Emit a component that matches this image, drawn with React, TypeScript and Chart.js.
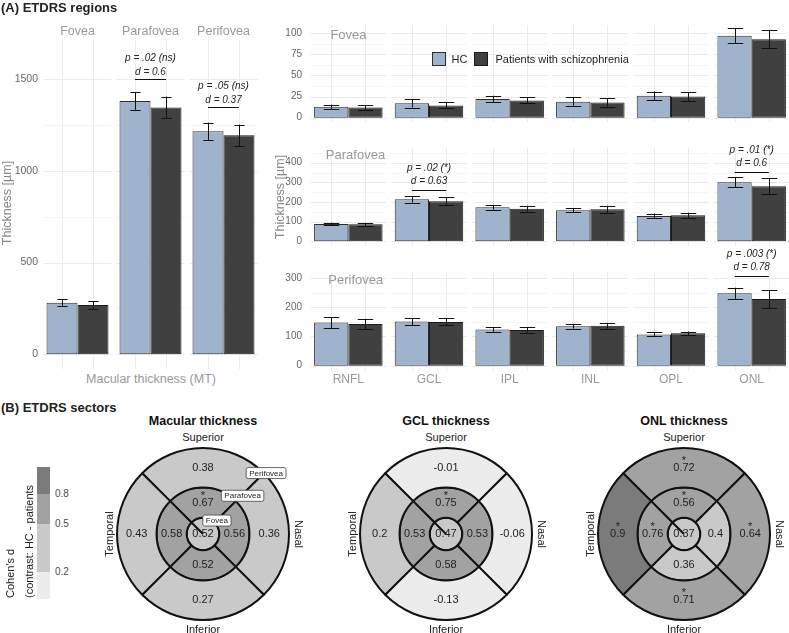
import React, { useEffect, useRef } from "react";
import { Chart, registerables } from "chart.js";
Chart.register(...registerables);

const FONT = "'Liberation Sans', Arial, Helvetica, sans-serif";

// ---------- Panel A (left): macular thickness ----------
const mtRegions = ["Fovea", "Parafovea", "Perifovea"];
const mtHC = [281, 1380, 1215];
const mtHCsd = [20, 48, 47];
const mtPat = [268, 1345, 1193];
const mtPatSd = [20, 59, 58];
const mtTicks = [0, 500, 1000, 1500];
const mtAnnIdx = [1, 2];
const mtAnnY = [1501, 1348];
const mtAnnP = ["p = .02 (ns)", "p = .05 (ns)"];
const mtAnnD = ["d = 0.6", "d = 0.37"];

// ---------- Panel A (right): retinal layers ----------
const layers = ["RNFL", "GCL", "IPL", "INL", "OPL", "ONL"];
const foveaHC = [13, 17, 22, 19, 26, 97];
const foveaHCsd = [2.5, 5, 4, 5, 5, 9];
const foveaPat = [12, 14.5, 20.5, 18, 25, 93];
const foveaPatSd = [2.5, 3.5, 3.5, 5, 5, 11];
const foveaTicks = [0, 25, 50, 75, 100];
const paraHC = [88, 214, 173, 158, 129, 300];
const paraHCsd = [7, 17, 12, 11, 12, 25];
const paraPat = [87, 204, 166, 163, 132, 280];
const paraPatSd = [7, 20, 15, 18, 14, 40];
const paraTicks = [0, 100, 200, 300, 400];
const periHC = [148, 151, 124, 135, 107, 248];
const periHCsd = [19, 12, 8.5, 8, 7, 19];
const periPat = [143, 150, 122, 137, 111, 228];
const periPatSd = [18, 12, 9, 10, 6, 30];
const periTicks = [0, 100, 200, 300];
const paraAnnIdx = [1, 5];
const paraAnnY = [263, 351];
const paraAnnP = ["p = .02 (*)", "p = .01 (*)"];
const paraAnnD = ["d = 0.63", "d = 0.6"];
const periAnnIdx = [5];
const periAnnY = [306];
const periAnnP = ["p = .003 (*)"];
const periAnnD = ["d = 0.78"];

// ---------- Panel B: ETDRS sectors (Cohen's d) ----------
const sectorNames = ["Superior", "Nasal", "Inferior", "Temporal"];
const sectorShare = [1, 1, 1, 1];
const mtOuter = [0.38, 0.36, 0.27, 0.43];
const mtInner = [0.67, 0.56, 0.52, 0.58];
const mtCenter = 0.52;
const mtOuterSig = [0, 0, 0, 0];
const mtInnerSig = [1, 0, 0, 0];
const gclOuter = [-0.01, -0.06, -0.13, 0.2];
const gclInner = [0.75, 0.53, 0.58, 0.53];
const gclCenter = 0.47;
const gclOuterSig = [0, 0, 0, 0];
const gclInnerSig = [1, 0, 0, 0];
const onlOuter = [0.72, 0.64, 0.71, 0.9];
const onlInner = [0.56, 0.4, 0.36, 0.76];
const onlCenter = 0.37;
const onlOuterSig = [1, 1, 1, 1];
const onlInnerSig = [1, 0, 0, 1];
const binBreaks = [0.2, 0.5, 0.8];
const binColors = ["#ececec", "#c9c9c9", "#a2a2a2", "#7b7b7b"];
const legendTicks = ["0.8", "0.5", "0.2"];

const HC_FILL = "#9fb4cc";
const HC_BORDER = "#2e2e2e";
const PAT_FILL = "#404040";
const PAT_BORDER = "#1a1a1a";
const CAT_PCT = 0.849;

type BarP = {
  labels: string[];
  hc: number[];
  hcSd: number[];
  pat: number[];
  patSd: number[];
  ticks: number[];
  min: number;
  max: number;
  yWidth: number;
  padTop: number;
  tickSize: number;
  tickPad: number;
  showX: boolean;
  xHeight: number;
  capRatio: number;
  annIdx: number[];
  annY: number[];
  annP: string[];
  annD: string[];
  annOff: [number, number];
};

const crisp = (v: number) => Math.round(v) + 0.5;

function barConfig(p: BarP): any {
  const step = p.ticks[1] - p.ticks[0];
  const plugin = {
    id: "facetGrid",
    beforeDatasetsDraw(chart: any) {
      const { ctx, chartArea: a } = chart;
      const y = chart.scales.y;
      const m0 = chart.getDatasetMeta(0).data;
      const m1 = chart.getDatasetMeta(1).data;
      const majors: number[] = y.ticks.map((t: any) => t.value);
      const minors: number[] = [];
      majors.forEach((v) => {
        [v - step / 2, v + step / 2].forEach((m) => {
          if (m > y.min && m < y.max && !minors.includes(m)) minors.push(m);
        });
      });
      ctx.save();
      ctx.lineWidth = 1;
      for (let i = 0; i < m0.length; i++) {
        const w = m0[i].width;
        const L = m0[i].x - 0.6 * w;
        const R = m1[i].x + 0.6 * w;
        ctx.strokeStyle = "#f5f5f5";
        minors.forEach((v) => {
          const py = crisp(y.getPixelForValue(v));
          ctx.beginPath();
          ctx.moveTo(L, py);
          ctx.lineTo(R, py);
          ctx.stroke();
        });
        ctx.strokeStyle = "#ebebeb";
        majors.forEach((v) => {
          const py = crisp(y.getPixelForValue(v));
          ctx.beginPath();
          ctx.moveTo(L, py);
          ctx.lineTo(R, py);
          ctx.stroke();
        });
        [m0[i].x, m1[i].x].forEach((cx: number) => {
          const px = crisp(cx);
          ctx.beginPath();
          ctx.moveTo(px, a.top);
          ctx.lineTo(px, a.bottom);
          ctx.stroke();
        });
      }
      ctx.restore();
    },
    afterDatasetsDraw(chart: any) {
      const { ctx } = chart;
      const y = chart.scales.y;
      const metas = [chart.getDatasetMeta(0).data, chart.getDatasetMeta(1).data];
      const means = [p.hc, p.pat];
      const sds = [p.hcSd, p.patSd];
      ctx.save();
      ctx.strokeStyle = "#111";
      ctx.lineWidth = 1;
      metas.forEach((els: any[], d: number) => {
        els.forEach((el: any, i: number) => {
          const top = y.getPixelForValue(means[d][i] + sds[d][i]);
          const bot = y.getPixelForValue(means[d][i] - sds[d][i]);
          const half = (el.width * p.capRatio) / 2;
          const cx = crisp(el.x);
          ctx.beginPath();
          ctx.moveTo(cx, top);
          ctx.lineTo(cx, bot);
          ctx.moveTo(cx - half, crisp(top));
          ctx.lineTo(cx + half, crisp(top));
          ctx.moveTo(cx - half, crisp(bot));
          ctx.lineTo(cx + half, crisp(bot));
          ctx.stroke();
        });
      });
      // significance annotations
      ctx.fillStyle = "#222";
      ctx.textAlign = "center";
      ctx.textBaseline = "middle";
      ctx.font = `italic 10px ${FONT}`;
      p.annIdx.forEach((idx, k) => {
        const x0 = metas[0][idx].x;
        const x1 = metas[1][idx].x;
        const ly = crisp(y.getPixelForValue(p.annY[k]));
        ctx.beginPath();
        ctx.moveTo(x0, ly);
        ctx.lineTo(x1, ly);
        ctx.stroke();
        const mx = (x0 + x1) / 2;
        ctx.fillText(p.annD[k], mx, ly + p.annOff[0]);
        ctx.fillText(p.annP[k], mx, ly + p.annOff[1]);
      });
      ctx.restore();
    },
  };
  return {
    type: "bar",
    data: {
      labels: p.labels,
      datasets: [
        {
          label: "HC",
          data: p.hc,
          backgroundColor: HC_FILL,
          borderColor: HC_BORDER,
          borderWidth: 1,
          borderSkipped: false,
        },
        {
          label: "Patients with schizophrenia",
          data: p.pat,
          backgroundColor: PAT_FILL,
          borderColor: PAT_BORDER,
          borderWidth: 1,
          borderSkipped: false,
        },
      ],
    },
    options: {
      animation: false,
      responsive: false,
      events: [],
      layout: { padding: { top: p.padTop, left: 0, right: 0, bottom: 0 } },
      datasets: { bar: { categoryPercentage: CAT_PCT, barPercentage: 1 } },
      plugins: { legend: { display: false }, tooltip: { enabled: false } },
      scales: {
        x: {
          type: "category",
          display: p.showX,
          offset: true,
          grid: { display: false, drawTicks: false },
          border: { display: false },
          ticks: { color: "#999", font: { family: FONT, size: 12 }, padding: 1, maxRotation: 0 },
          afterFit: (s: any) => {
            s.height = p.xHeight;
            s.paddingLeft = 0;
            s.paddingRight = 0;
          },
        },
        y: {
          min: p.min,
          max: p.max,
          grid: { display: false, drawTicks: false },
          border: { display: false },
          afterBuildTicks: (s: any) => {
            s.ticks = p.ticks.map((v) => ({ value: v }));
          },
          ticks: {
            color: "#666",
            font: { family: FONT, size: p.tickSize },
            padding: p.tickPad,
            callback: (v: any) => String(v),
          },
          afterFit: (s: any) => {
            s.width = p.yWidth;
            s.paddingTop = 0;
            s.paddingBottom = 0;
          },
        },
      },
    },
    plugins: [plugin],
  };
}

const binOf = (v: number) => {
  let b = 0;
  binBreaks.forEach((br) => {
    if (v >= br) b++;
  });
  return b;
};

function ringConfig(
  outer: number[],
  inner: number[],
  center: number,
  outerSig: number[],
  innerSig: number[],
  centerBin: number,
  regions: boolean
): any {
  const col = (v: number) => binColors[binOf(v)];
  const vals = [outer, inner, [center]];
  const sigs = [outerSig, innerSig, [0]];
  const plugin = {
    id: "ringLabels",
    afterDatasetsDraw(chart: any) {
      const { ctx } = chart;
      ctx.save();
      ctx.textAlign = "center";
      ctx.textBaseline = "middle";
      ctx.fillStyle = "#222";
      for (let di = 0; di < 3; di++) {
        const meta = chart.getDatasetMeta(di);
        meta.data.forEach((arc: any, j: number) => {
          const pt = di === 2 ? { x: arc.x, y: arc.y } : arc.getCenterPoint();
          ctx.font = `11px ${FONT}`;
          ctx.fillText(String(vals[di][j]), pt.x, pt.y);
          if (sigs[di][j]) ctx.fillText("*", pt.x, pt.y - 7);
        });
      }
      if (regions) {
        const c = chart.getDatasetMeta(2).data[0];
        const R = chart.getDatasetMeta(0).data[0].outerRadius;
        const names = ["Perifovea", "Parafovea", "Fovea"];
        const fr = [1.02, 0.64, 0.225];
        const ang = (-44 * Math.PI) / 180;
        ctx.font = `8px ${FONT}`;
        names.forEach((n, k) => {
          const x = c.x + Math.cos(ang) * R * fr[k];
          const y = c.y + Math.sin(ang) * R * fr[k];
          const w = ctx.measureText(n).width + 6;
          const h = 11;
          ctx.beginPath();
          (ctx as any).roundRect(x - w / 2, y - h / 2, w, h, 2);
          ctx.fillStyle = "#fff";
          ctx.fill();
          ctx.strokeStyle = "#444";
          ctx.lineWidth = 0.8;
          ctx.stroke();
          ctx.fillStyle = "#222";
          ctx.fillText(n, x, y + 0.5);
        });
      }
      ctx.restore();
    },
  };
  const common = { borderColor: "#111", borderWidth: 2 };
  return {
    type: "doughnut",
    data: {
      labels: sectorNames,
      datasets: [
        { data: sectorShare, backgroundColor: outer.map(col), weight: 40, ...common },
        { data: sectorShare, backgroundColor: inner.map(col), weight: 30.5, ...common },
        { data: [1], backgroundColor: [binColors[centerBin]], weight: 16.5, ...common },
      ],
    },
    options: {
      animation: false,
      responsive: false,
      events: [],
      cutout: 0,
      rotation: -45,
      layout: { padding: 3 },
      plugins: { legend: { display: false }, tooltip: { enabled: false } },
    },
    plugins: [plugin],
  };
}

function ChartBox(props: { left: number; top: number; width: number; height: number; make: () => any }) {
  const ref = useRef<HTMLCanvasElement>(null);
  useEffect(() => {
    const c = new Chart(ref.current as HTMLCanvasElement, props.make());
    return () => c.destroy();
  }, []);
  return (
    <canvas
      ref={ref}
      width={props.width}
      height={props.height}
      style={{ position: "absolute", left: props.left, top: props.top, width: props.width, height: props.height }}
    />
  );
}

function Txt(p: {
  x: number;
  y: number;
  text: string;
  size: number;
  color?: string;
  bold?: boolean;
  italic?: boolean;
  rot?: number;
  left?: boolean;
}) {
  const tr = p.left ? "translate(0,-50%)" : `translate(-50%,-50%) rotate(${p.rot || 0}deg)`;
  return (
    <div
      style={{
        position: "absolute",
        left: p.x,
        top: p.y,
        transform: tr,
        fontSize: p.size,
        color: p.color || "#222",
        fontWeight: p.bold ? 700 : 400,
        fontStyle: p.italic ? "italic" : "normal",
        whiteSpace: "nowrap",
        lineHeight: 1,
        fontFamily: FONT,
      }}
    >
      {p.text}
    </div>
  );
}

function UpText(p: { x: number; y: number; text: string; size: number }) {
  return (
    <div
      style={{
        position: "absolute",
        left: p.x - p.size / 2,
        top: p.y,
        transformOrigin: "0 0",
        transform: "rotate(-90deg)",
        fontSize: p.size,
        lineHeight: 1,
        whiteSpace: "nowrap",
        color: "#222",
        fontFamily: FONT,
      }}
    >
      {p.text}
    </div>
  );
}

const circles = [
  { cx: 203, title: "Macular thickness", o: mtOuter, i: mtInner, c: mtCenter, os: mtOuterSig, is: mtInnerSig, cb: 1, reg: true },
  { cx: 446, title: "GCL thickness", o: gclOuter, i: gclInner, c: gclCenter, os: gclOuterSig, is: gclInnerSig, cb: binOf(gclCenter), reg: false },
  { cx: 684, title: "ONL thickness", o: onlOuter, i: onlInner, c: onlCenter, os: onlOuterSig, is: onlInnerSig, cb: binOf(onlCenter), reg: false },
];
const CY = 534;

export default function App() {
  const rightCommon = {
    labels: layers,
    yWidth: 38,
    tickSize: 10,
    tickPad: 6,
    capRatio: 0.45,
    annOff: [-8.8, -22.4] as [number, number],
  };
  return (
    <div
      style={{
        position: "fixed",
        left: 0,
        top: 0,
        width: 789,
        height: 633,
        overflow: "hidden",
        background: "#fff",
        fontFamily: FONT,
      }}
    >
      {/* Panel A left */}
      <ChartBox
        left={0}
        top={0}
        width={260}
        height={369}
        make={() =>
          barConfig({
            labels: mtRegions,
            hc: mtHC,
            hcSd: mtHCsd,
            pat: mtPat,
            patSd: mtPatSd,
            ticks: mtTicks,
            min: -80,
            max: 1712,
            yWidth: 41,
            padTop: 40,
            tickSize: 10.5,
            tickPad: 3,
            showX: false,
            xHeight: 0,
            capRatio: 0.33,
            annIdx: mtAnnIdx,
            annY: mtAnnY,
            annP: mtAnnP,
            annD: mtAnnD,
            annOff: [-7.3, -21.3],
          })
        }
      />
      {/* Panel A right rows */}
      <ChartBox
        left={270}
        top={0}
        width={522}
        height={122}
        make={() =>
          barConfig({
            ...rightCommon,
            hc: foveaHC,
            hcSd: foveaHCsd,
            pat: foveaPat,
            patSd: foveaPatSd,
            ticks: foveaTicks,
            min: -5.1,
            max: 109.8,
            padTop: 25,
            showX: false,
            xHeight: 0,
            annIdx: [],
            annY: [],
            annP: [],
            annD: [],
          })
        }
      />
      <ChartBox
        left={270}
        top={125}
        width={522}
        height={121}
        make={() =>
          barConfig({
            ...rightCommon,
            hc: paraHC,
            hcSd: paraHCsd,
            pat: paraPat,
            patSd: paraPatSd,
            ticks: paraTicks,
            min: -23.9,
            max: 474.8,
            padTop: 23,
            showX: false,
            xHeight: 0,
            annIdx: paraAnnIdx,
            annY: paraAnnY,
            annP: paraAnnP,
            annD: paraAnnD,
          })
        }
      />
      <ChartBox
        left={270}
        top={247}
        width={522}
        height={141}
        make={() =>
          barConfig({
            ...rightCommon,
            hc: periHC,
            hcSd: periHCsd,
            pat: periPat,
            patSd: periPatSd,
            ticks: periTicks,
            min: -18.2,
            max: 320.9,
            padTop: 25,
            showX: true,
            xHeight: 17,
            annIdx: periAnnIdx,
            annY: periAnnY,
            annP: periAnnP,
            annD: periAnnD,
          })
        }
      />

      {/* Panel A texts */}
      <Txt x={1} y={6.5} text="(A) ETDRS regions" size={13} bold left />
      {mtRegions.map((r, i) => (
        <Txt key={r} x={77.5 + i * 73} y={31} text={r} size={12.5} color="#999" />
      ))}
      <Txt x={7} y={203} text="Thickness [µm]" size={12.5} color="#888" rot={-90} />
      <Txt x={151} y={379} text="Macular thickness (MT)" size={12.5} color="#999" />
      <Txt x={280} y={197} text="Thickness [µm]" size={12.5} color="#888" rot={-90} />
      <Txt x={348.5} y={34} text="Fovea" size={13} color="#999" />
      <Txt x={355.5} y={154} text="Parafovea" size={13} color="#999" />
      <Txt x={355.8} y={278.7} text="Perifovea" size={13} color="#999" />
      {/* legend */}
      <div style={{ position: "absolute", left: 432, top: 52, width: 14, height: 14, boxSizing: "border-box", background: HC_FILL, border: `1px solid ${HC_BORDER}` }} />
      <Txt x={451.5} y={59} text="HC" size={11} left />
      <div style={{ position: "absolute", left: 474, top: 52, width: 14, height: 14, boxSizing: "border-box", background: PAT_FILL, border: `1px solid ${PAT_BORDER}` }} />
      <Txt x={495.5} y={59} text="Patients with schizophrenia" size={11} left />

      {/* Panel B */}
      <Txt x={1} y={407} text="(B) ETDRS sectors" size={13} bold left />
      {[
        [467.3, 494.3, 3],
        [494.3, 524, 2],
        [524, 572.3, 1],
        [572.3, 599, 0],
      ].map(([t, b, k]) => (
        <div key={k} style={{ position: "absolute", left: 37, top: t, width: 12.6, height: b - t, background: binColors[k] }} />
      ))}
      {legendTicks.map((t, k) => (
        <Txt key={t} x={55} y={[494.3, 524, 572.3][k]} text={t} size={10} color="#4d4d4d" left />
      ))}
      <UpText x={10.3} y={598.3} text="Cohen's d" size={11} />
      <UpText x={29} y={598.3} text="(contrast: HC - patients" size={11} />

      {circles.map((c) => (
        <React.Fragment key={c.title}>
          <ChartBox
            left={c.cx - 90}
            top={CY - 90}
            width={180}
            height={180}
            make={() => ringConfig(c.o, c.i, c.c, c.os, c.is, c.cb, c.reg)}
          />
          <Txt x={c.cx} y={420.5} text={c.title} size={12.5} bold color="#111" />
          <Txt x={c.cx} y={437.3} text="Superior" size={11} />
          <Txt x={c.cx} y={629.3} text="Inferior" size={11} />
          <Txt x={c.cx - 94} y={CY} text="Temporal" size={11} rot={-90} />
          <Txt x={c.cx + 95} y={CY} text="Nasal" size={11} rot={90} />
        </React.Fragment>
      ))}
    </div>
  );
}
